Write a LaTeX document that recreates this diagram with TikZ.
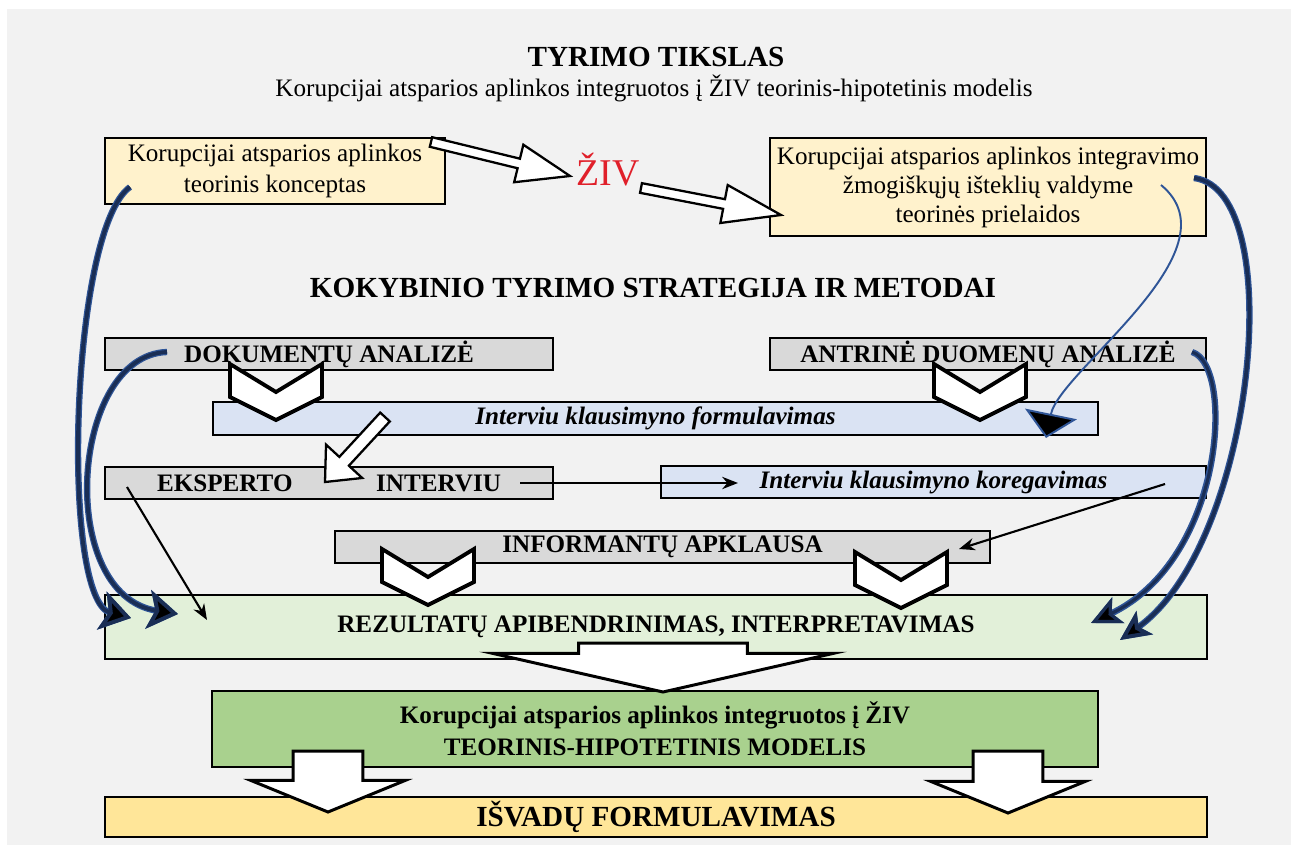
\documentclass[tikz,border=0pt]{standalone}
\usepackage{fontspec}
\setmainfont{Liberation Serif}
\usetikzlibrary{arrows.meta,calc}

\definecolor{bgGray}{HTML}{F2F2F2}
\definecolor{paleYellow}{HTML}{FFF2CC}
\definecolor{boxGray}{HTML}{D9D9D9}
\definecolor{paleBlue}{HTML}{DAE3F3}
\definecolor{paleGreen}{HTML}{E2F0D9}
\definecolor{midGreen}{HTML}{A9D18E}
\definecolor{gold}{HTML}{FFE699}
\definecolor{zivRed}{HTML}{E0202A}
\definecolor{navy}{HTML}{1A2E55}
\definecolor{curveBlue}{HTML}{2F5597}

\begin{document}
\begin{tikzpicture}
    [x=0.02cm, y=-0.02cm,
     txt/.style={font=\fontsize{14.3}{16.5}\selectfont, align=center},
     btxt/.style={font=\bfseries\fontsize{14.3}{16.5}\selectfont, align=center},
     bigtxt/.style={font=\bfseries\fontsize{16.6}{20}\selectfont},
     boxsize/.style 2 args={minimum width=#1*0.02cm, minimum height=#2*0.02cm},
     box/.style={draw=black, line width=1.1pt, inner sep=0pt},
     hollow/.style={draw=black, fill=white, line width=1.3pt, line join=miter},
     fat arrow/.style n args={3}{to path={
        let \p1=(\tikztostart), \p2=(\tikztotarget),
            \n1={atan2(\y2-\y1,\x2-\x1)}, \n2={veclen(\x2-\x1,\y2-\y1)} in
        ($(\p1)+(\n1+90:#1)$) -- ($(\p1)+(\n1:\n2-#3)+(\n1+90:#1)$)
        -- ($(\p1)+(\n1:\n2-#3)+(\n1+90:#2)$) -- (\p2)
        -- ($(\p1)+(\n1:\n2-#3)+(\n1-90:#2)$) -- ($(\p1)+(\n1:\n2-#3)+(\n1-90:#1)$)
        -- ($(\p1)+(\n1-90:#1)$) -- cycle}},
     chevron/.pic={\draw[draw=black, fill=white, line width=2.2pt, line join=miter]
        (-46,0) -- (0,28) -- (46,0) -- (46,33) -- (0,56) -- (-46,33) -- cycle;},
     thick curve/.style={draw=navy, line width=2.2pt,
        preaction={draw=curveBlue, line width=3.6pt},
        -{Stealth[length=17pt, width=22pt, inset=4pt, fill=black]}},
     thin curve/.style={draw=curveBlue, line width=1.1pt},
     plain arrow/.style={draw=black, line width=1.2pt, -{Stealth[length=9pt, width=7pt]}}]
    \useasboundingbox (0,0) rectangle (1291,845);
    \fill[bgGray] (7,9) rectangle (1291,845);

    % goal
    \node[bigtxt] (tikslas) at (656,57) {TYRIMO TIKSLAS};
    \node[txt] (tikslasText) at (654,88) {Korupcijai atsparios aplinkos integruotos į ŽIV teorinis-hipotetinis modelis};

    \node[box, font=\fontsize{14.3}{18}\selectfont, align=center, fill=paleYellow, boxsize={340}{66}] (koncept) at (275,171) {Korupcijai atsparios aplinkos\\teorinis konceptas};
    \node[font=\fontsize{21.5}{24}\selectfont, text=zivRed] (ziv) at (608,170) {ŽIV};
    \node[box, txt, fill=paleYellow, boxsize={436}{98}] (prielaidos) at (988,187) {Korupcijai atsparios aplinkos integravimo\\žmogiškųjų išteklių valdyme\\teorinės prielaidos};

    % strategy and methods
    \node[bigtxt] (strategija) at (653,288) {KOKYBINIO TYRIMO STRATEGIJA IR METODAI};
    \node[box, btxt, fill=boxGray, boxsize={448}{32}] (dokumentai) at (329,354) {DOKUMENTŲ ANALIZĖ};
    \node[box, btxt, fill=boxGray, boxsize={436}{32}] (antrine) at (988,354) {ANTRINĖ DUOMENŲ ANALIZĖ};
    \node[box, btxt, fill=paleBlue, boxsize={885}{33}, font=\bfseries\itshape\fontsize{14.3}{16.5}\selectfont] (formulavimas) at (655.5,418.5) {Interviu klausimyno formulavimas};
    \node[box, btxt, fill=boxGray, boxsize={448}{32}] (ekspertas) at (329,483) {EKSPERTO\hspace{47.6pt}INTERVIU};
    \node[box, btxt, fill=paleBlue, boxsize={545}{32}, font=\bfseries\itshape\fontsize{14.3}{16.5}\selectfont] (koregavimas) at (933.5,482) {Interviu klausimyno koregavimas};
    \node[box, btxt, fill=boxGray, boxsize={655}{32}] (apklausa) at (662.5,547) {INFORMANTŲ APKLAUSA};
    \node[box, btxt, fill=paleGreen, boxsize={1102}{64}] (rezultatai) at (656,627) {REZULTATŲ APIBENDRINIMAS, INTERPRETAVIMAS};
    \node[box, btxt, fill=midGreen, boxsize={886}{76}, font=\bfseries\fontsize{14.3}{18}\selectfont] (modelis) at (655,729) {Korupcijai atsparios aplinkos integruotos į ŽIV\\TEORINIS-HIPOTETINIS MODELIS};
    \node[box, bigtxt, fill=gold, boxsize={1102}{40}] (isvados) at (656,817) {IŠVADŲ FORMULAVIMAS};

    % chevrons
    \pic at (276,364) {chevron};
    \pic at (980,364) {chevron};
    \pic at (428,549) {chevron};
    \pic at (901,552) {chevron};

    % connector end points
    \coordinate (konceptOut) at (431,142);
    \coordinate (zivIn) at (570,176);
    \coordinate (zivOut) at (641,188);
    \coordinate (prielaidosIn) at (781,215);
    \coordinate (formOut) at (385,417);
    \coordinate (ekspIn) at (325,482);
    \coordinate (interviuOut) at (520,483);
    \coordinate (koregIn) at (738,483);
    \coordinate (koregOut) at (1165,484);
    \coordinate (apklIn) at (959,549);
    \coordinate (ekspOut) at (127,487);
    \coordinate (rezIn) at (207,620);
    \coordinate (rezOut) at (663,643);
    \coordinate (modIn) at (663,692);
    \coordinate (modOutL) at (328,751);
    \coordinate (isvInL) at (328,812);
    \coordinate (modOutR) at (1008,751);
    \coordinate (isvInR) at (1008,813);
    \coordinate (konceptCurve) at (130,187);
    \coordinate (rezA) at (131,618);
    \coordinate (dokCurve) at (167,352);
    \coordinate (rezB) at (178,614);
    \coordinate (priel1) at (1161,185);
    \coordinate (formIn) at (1046,438);
    \coordinate (priel2) at (1194,178);
    \coordinate (rezD) at (1120,640);
    \coordinate (antrCurve) at (1192,352);
    \coordinate (rezC) at (1091,623);

    % hollow arrows
    \draw[hollow] (konceptOut) to[fat arrow={2.8pt}{11pt}{30pt}] (zivIn);
    \draw[hollow] (zivOut) to[fat arrow={2.8pt}{11pt}{33pt}] (prielaidosIn);
    \draw[hollow] (formOut) to[fat arrow={3.7pt}{14pt}{16pt}] (ekspIn);

    % straight arrows
    \draw[plain arrow] (interviuOut) -- (koregIn);
    \draw[plain arrow] (koregOut) -- (apklIn);
    \draw[plain arrow] (ekspOut) -- (rezIn);

    % curved arrows
    \draw[thick curve] (konceptCurve) .. controls (70,230) and (60,600) .. (rezA);
    \draw[thick curve] (dokCurve) .. controls (70,355) and (55,595) .. (rezB);
    \draw[thick curve, -{Stealth[length=17pt, width=16pt, inset=4pt, fill=black]}] (priel2) .. controls (1290,190) and (1255,545) .. (rezD);
    \draw[thick curve, line width=1.8pt, -{Stealth[length=17pt, width=16pt, inset=4pt, fill=black]}] (antrCurve) .. controls (1235,365) and (1225,560) .. (rezC);
    \draw[thin curve, -{Triangle[length=14pt, width=30pt, fill=black]}] (priel1) .. controls (1240,250) and (1060,370) .. (formIn);

    % result arrows
    \draw[hollow, line width=1.7pt] (rezOut) to[fat arrow={48pt}{97pt}{22pt}] (modIn);
    \draw[hollow, line width=1.7pt] (modOutL) to[fat arrow={19.8pt}{44pt}{18pt}] (isvInL);
    \draw[hollow, line width=1.7pt] (modOutR) to[fat arrow={19.8pt}{44pt}{18pt}] (isvInR);
\end{tikzpicture}
\end{document}
